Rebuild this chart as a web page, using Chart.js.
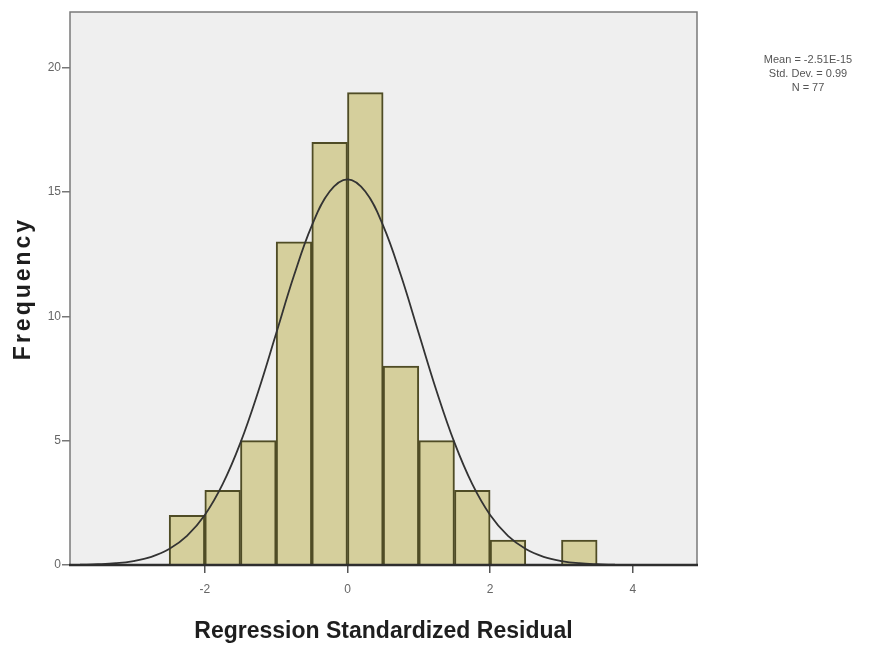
<!DOCTYPE html>
<html>
<head>
<meta charset="utf-8">
<title>Histogram</title>
<script src="https://cdn.jsdelivr.net/npm/chart.js@4/dist/chart.umd.min.js"></script>
<style>
    html, body { margin: 0; padding: 0; background: #fff; }
    #wrap { width: 874px; height: 660px; }
</style>
</head>
<body>
<div id="wrap"><canvas id="histChart" width="874" height="660"></canvas></div>
<script>
// histogram bins (left edges, width 0.5) and counts, N = 77
const binLeft = [-2.5, -2.0, -1.5, -1.0, -0.5, 0.0, 0.5, 1.0, 1.5, 2.0, 2.5, 3.0];
const binWidth = 0.5;
const counts = [2, 3, 5, 13, 17, 19, 8, 5, 3, 1, 0, 1];

// normal curve
const curveX = [-3.75, -3.5, -3.25, -3.0, -2.75, -2.5, -2.25, -2.0, -1.75, -1.5, -1.25, -1.0, -0.75, -0.5, -0.25, 0.0,
    0.25, 0.5, 0.75, 1.0, 1.25, 1.5, 1.75, 2.0, 2.25, 2.5, 2.75, 3.0, 3.25, 3.5, 3.75];
const curveY = [0.01, 0.03, 0.07, 0.16, 0.33, 0.64, 1.17, 2.01, 3.25, 4.92, 6.99, 9.31, 11.64, 13.65, 15.02, 15.51,
    15.02, 13.65, 11.64, 9.31, 6.99, 4.92, 3.25, 2.01, 1.17, 0.64, 0.33, 0.16, 0.07, 0.03, 0.01];

const xTicks = [-2, 0, 2, 4];
const yTicks = [0, 5, 10, 15, 20];
const statsLines = ['Mean = -2.51E-15', 'Std. Dev. = 0.99', 'N = 77'];

const canvas = document.getElementById('histChart');

const plotBackground = {
    id: 'plotBackground',
    beforeDraw: (chart) => {
        const { ctx, chartArea: a } = chart;
        ctx.save();
        ctx.fillStyle = '#efefef';
        ctx.fillRect(a.left, a.top, a.right - a.left, a.bottom - a.top);
        ctx.strokeStyle = '#7a7a7a';
        ctx.lineWidth = 1.5;
        ctx.beginPath();
        ctx.moveTo(a.left, a.bottom);
        ctx.lineTo(a.left, a.top);
        ctx.lineTo(a.right, a.top);
        ctx.lineTo(a.right, a.bottom);
        ctx.stroke();
        ctx.restore();
    },
    afterDraw: (chart) => {
        const { ctx, chartArea: a } = chart;
        ctx.save();
        // bottom axis line over the bars
        ctx.strokeStyle = '#2e2e2e';
        ctx.lineWidth = 2.5;
        ctx.beginPath();
        ctx.moveTo(a.left - 1, a.bottom);
        ctx.lineTo(a.right + 1, a.bottom);
        ctx.stroke();

        // y title with some letter spacing
        ctx.fillStyle = '#1e1e1e';
        ctx.font = 'bold 23px "Liberation Sans", Arial, sans-serif';
        ctx.letterSpacing = '3px';
        ctx.textAlign = 'center';
        ctx.textBaseline = 'middle';
        ctx.translate(24, (a.top + a.bottom) / 2);
        ctx.rotate(-Math.PI / 2);
        ctx.fillText('Frequency', 0, 0);
        ctx.restore();

        // stats box text
        ctx.save();
        ctx.fillStyle = '#555';
        ctx.font = '11px "Liberation Sans", Arial, sans-serif';
        ctx.textAlign = 'center';
        ctx.textBaseline = 'middle';
        statsLines.forEach((line, i) => {
            ctx.fillText(line, 808, 60 + i * 14);
        });
        ctx.restore();
    }
};

new Chart(canvas.getContext('2d'), {
    type: 'bar',
    data: {
        datasets: [
            {
                type: 'line',
                data: curveX.map((x, i) => ({ x: x, y: curveY[i] })),
                borderColor: '#333',
                borderWidth: 1.8,
                pointRadius: 0,
                tension: 0.4,
                fill: false,
                order: 0
            },
            {
                type: 'bar',
                data: binLeft.map((x, i) => ({ x: x + binWidth / 2, y: counts[i] })),
                backgroundColor: '#d5cf9c',
                borderColor: '#4f4c25',
                borderWidth: 2,
                borderSkipped: 'start',
                barPercentage: 1,
                categoryPercentage: 1,
                order: 1
            }
        ]
    },
    options: {
        responsive: false,
        animation: false,
        layout: { padding: { left: 0, right: 177, top: 12, bottom: 0 } },
        plugins: {
            legend: { display: false },
            tooltip: { enabled: false }
        },
        scales: {
            x: {
                type: 'linear',
                offset: false,
                min: -3.89,
                max: 4.90,
                afterFit: (scale) => { scale.height = 95; },
                afterBuildTicks: (scale) => { scale.ticks = xTicks.map(v => ({ value: v })); },
                grid: { display: true, offset: false, drawOnChartArea: false, drawTicks: true, tickLength: 8, color: '#555', lineWidth: 1.5 },
                border: { display: false },
                ticks: {
                    color: '#666',
                    padding: 9,
                    font: { family: '"Liberation Sans", Arial, sans-serif', size: 12 }
                },
                title: {
                    display: true,
                    text: 'Regression Standardized Residual',
                    color: '#1e1e1e',
                    padding: { top: 0, bottom: 15 },
                    font: { family: '"Liberation Sans", Arial, sans-serif', size: 23, weight: 'bold' }
                }
            },
            y: {
                type: 'linear',
                min: 0,
                max: 22.24,
                afterFit: (scale) => { scale.width = 70; },
                afterBuildTicks: (scale) => { scale.ticks = yTicks.map(v => ({ value: v })); },
                grid: { display: true, drawOnChartArea: false, drawTicks: true, tickLength: 8, color: '#777', lineWidth: 1.5 },
                border: { display: false },
                ticks: {
                    color: '#666',
                    padding: 1,
                    font: { family: '"Liberation Sans", Arial, sans-serif', size: 12 }
                },
                title: { display: false }
            }
        }
    },
    plugins: [plotBackground]
});
</script>
</body>
</html>
